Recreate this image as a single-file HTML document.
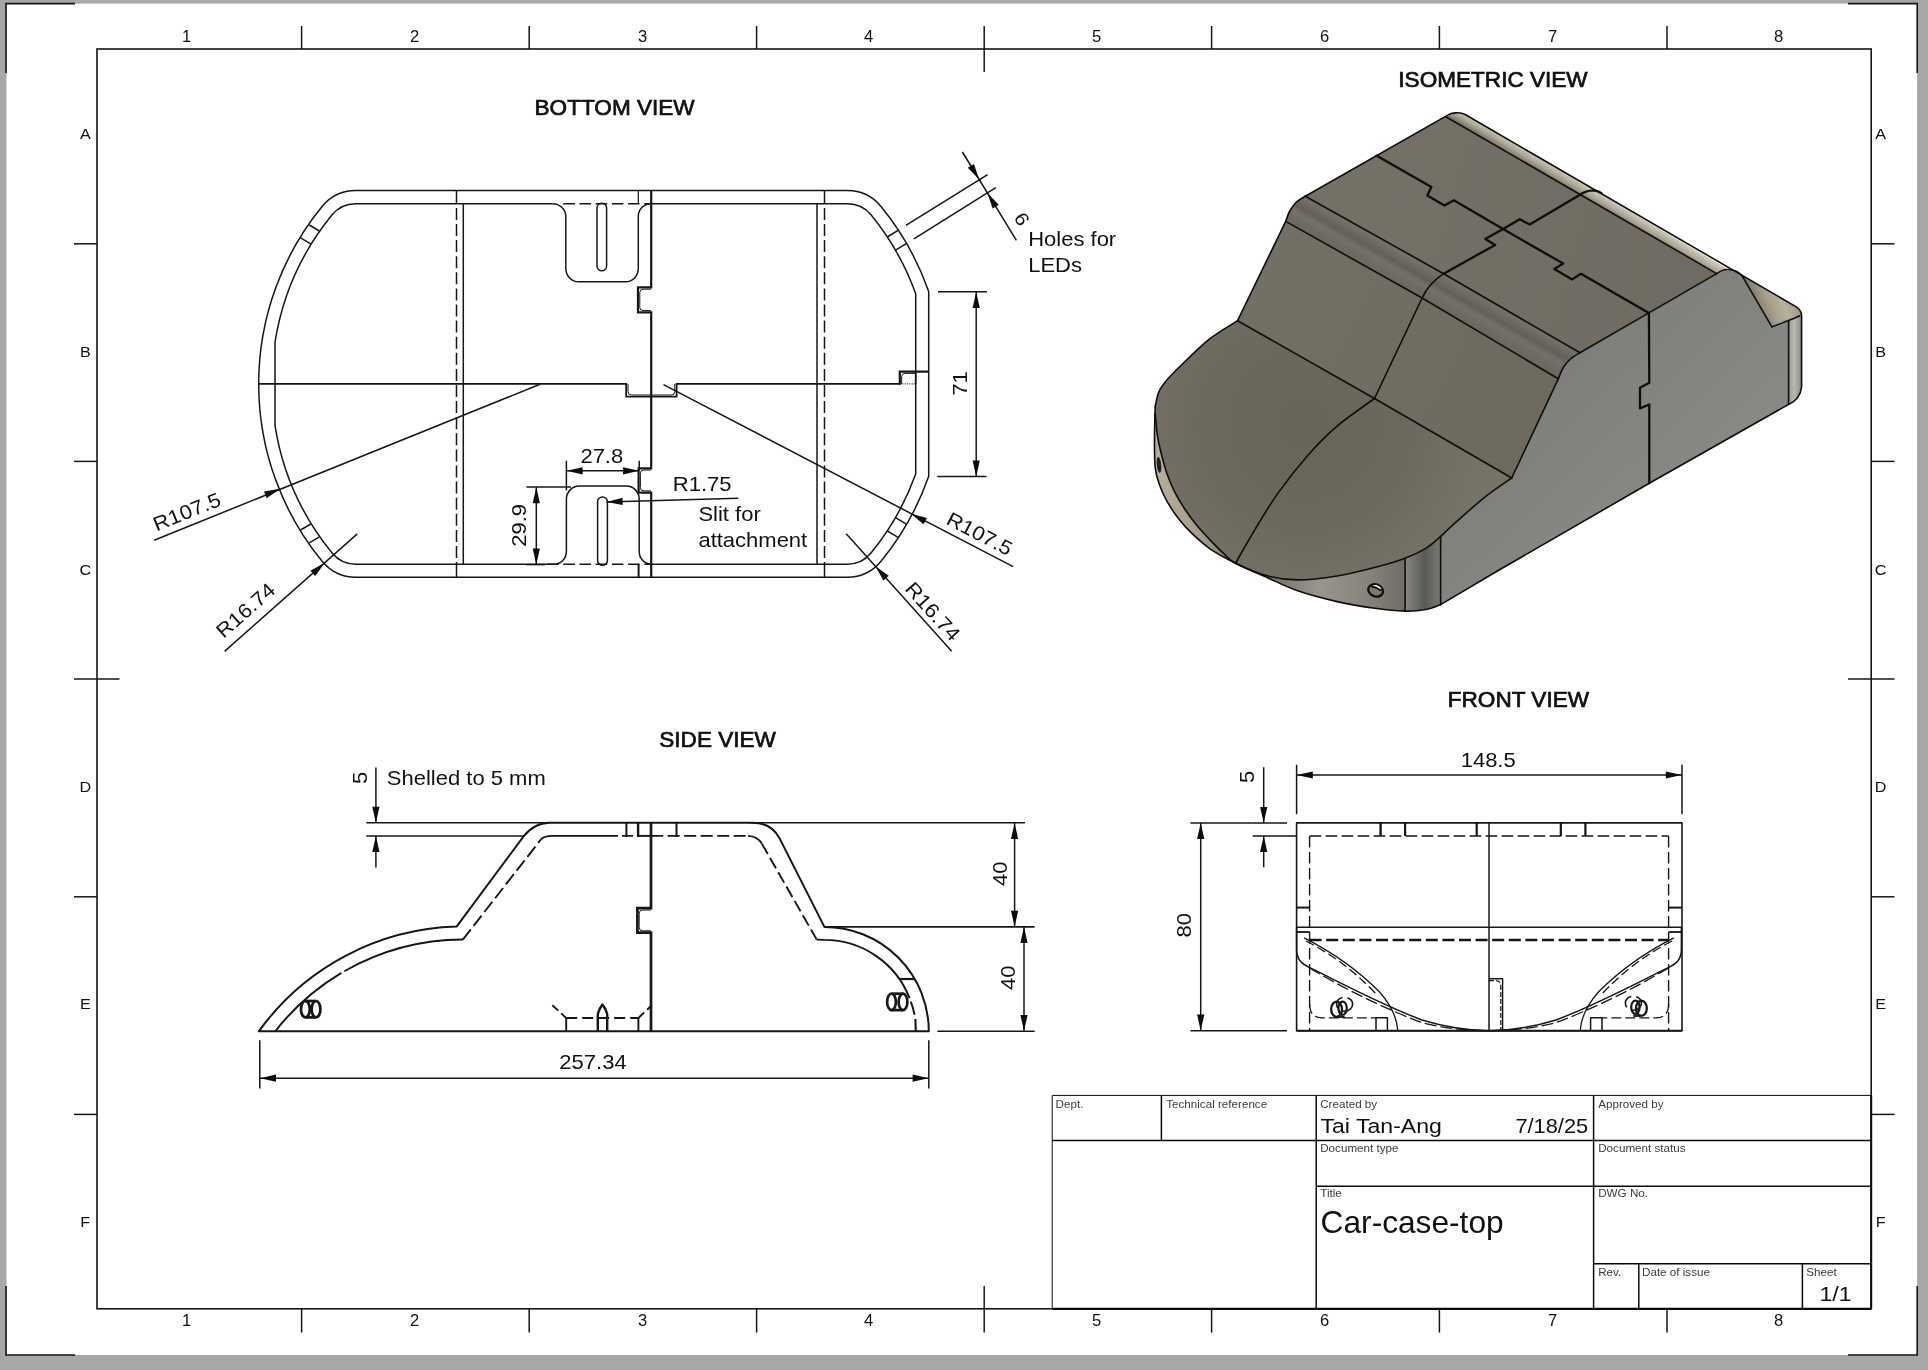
<!DOCTYPE html>
<html><head><meta charset="utf-8"><title>Car-case-top drawing</title>
<style>
html,body{margin:0;padding:0;background:#a7a7a7;}
body{width:1928px;height:1370px;overflow:hidden;}
svg{display:block;will-change:transform;}
svg text{font-family:"Liberation Sans",sans-serif;stroke:none;}
</style></head><body>
<svg width="1928" height="1370" viewBox="0 0 1928 1370">
<rect x="0" y="0" width="1928" height="1370" fill="#a7a7a7"/>
<rect x="6.5" y="3.6" width="1910.6" height="1351.4" fill="#ffffff"/>
<g stroke="#161616" fill="none" stroke-linecap="butt">
<path d="M6 73 L6 3.6 L75 3.6" stroke-width="1.6" fill="none" />
<path d="M1848 3.6 L1917.2 3.6 L1917.2 73" stroke-width="1.6" fill="none" />
<path d="M6 1286 L6 1355 L75 1355" stroke-width="1.6" fill="none" />
<path d="M1848 1355 L1917.2 1355 L1917.2 1286" stroke-width="1.6" fill="none" />
<rect x="97.0" y="49.0" width="1774.2" height="1259.8" stroke-width="1.6"/>
<line x1="301.60" y1="26.00" x2="301.60" y2="49.00" stroke-width="1.5" />
<line x1="301.60" y1="1308.80" x2="301.60" y2="1332.60" stroke-width="1.5" />
<line x1="529.20" y1="26.00" x2="529.20" y2="49.00" stroke-width="1.5" />
<line x1="529.20" y1="1308.80" x2="529.20" y2="1332.60" stroke-width="1.5" />
<line x1="756.60" y1="26.00" x2="756.60" y2="49.00" stroke-width="1.5" />
<line x1="756.60" y1="1308.80" x2="756.60" y2="1332.60" stroke-width="1.5" />
<line x1="984.20" y1="26.00" x2="984.20" y2="72.00" stroke-width="1.5" />
<line x1="984.20" y1="1286.00" x2="984.20" y2="1332.60" stroke-width="1.5" />
<line x1="1211.60" y1="26.00" x2="1211.60" y2="49.00" stroke-width="1.5" />
<line x1="1211.60" y1="1308.80" x2="1211.60" y2="1332.60" stroke-width="1.5" />
<line x1="1439.40" y1="26.00" x2="1439.40" y2="49.00" stroke-width="1.5" />
<line x1="1439.40" y1="1308.80" x2="1439.40" y2="1332.60" stroke-width="1.5" />
<line x1="1667.00" y1="26.00" x2="1667.00" y2="49.00" stroke-width="1.5" />
<line x1="1667.00" y1="1308.80" x2="1667.00" y2="1332.60" stroke-width="1.5" />
<line x1="74.00" y1="243.80" x2="97.00" y2="243.80" stroke-width="1.5" />
<line x1="1871.20" y1="243.80" x2="1894.50" y2="243.80" stroke-width="1.5" />
<line x1="74.00" y1="461.40" x2="97.00" y2="461.40" stroke-width="1.5" />
<line x1="1871.20" y1="461.40" x2="1894.50" y2="461.40" stroke-width="1.5" />
<line x1="74.00" y1="679.00" x2="119.50" y2="679.00" stroke-width="1.5" />
<line x1="1848.00" y1="679.00" x2="1894.50" y2="679.00" stroke-width="1.5" />
<line x1="74.00" y1="896.80" x2="97.00" y2="896.80" stroke-width="1.5" />
<line x1="1871.20" y1="896.80" x2="1894.50" y2="896.80" stroke-width="1.5" />
<line x1="74.00" y1="1114.40" x2="97.00" y2="1114.40" stroke-width="1.5" />
<line x1="1871.20" y1="1114.40" x2="1894.50" y2="1114.40" stroke-width="1.5" />
</g>
<text transform="translate(186.50 41.60) scale(1.05 1)" font-size="15.8" text-anchor="middle" font-weight="normal" fill="#111" >1</text>
<text transform="translate(186.50 1325.80) scale(1.05 1)" font-size="15.8" text-anchor="middle" font-weight="normal" fill="#111" >1</text>
<text transform="translate(414.50 41.60) scale(1.05 1)" font-size="15.8" text-anchor="middle" font-weight="normal" fill="#111" >2</text>
<text transform="translate(414.50 1325.80) scale(1.05 1)" font-size="15.8" text-anchor="middle" font-weight="normal" fill="#111" >2</text>
<text transform="translate(642.50 41.60) scale(1.05 1)" font-size="15.8" text-anchor="middle" font-weight="normal" fill="#111" >3</text>
<text transform="translate(642.50 1325.80) scale(1.05 1)" font-size="15.8" text-anchor="middle" font-weight="normal" fill="#111" >3</text>
<text transform="translate(868.50 41.60) scale(1.05 1)" font-size="15.8" text-anchor="middle" font-weight="normal" fill="#111" >4</text>
<text transform="translate(868.50 1325.80) scale(1.05 1)" font-size="15.8" text-anchor="middle" font-weight="normal" fill="#111" >4</text>
<text transform="translate(1096.50 41.60) scale(1.05 1)" font-size="15.8" text-anchor="middle" font-weight="normal" fill="#111" >5</text>
<text transform="translate(1096.50 1325.80) scale(1.05 1)" font-size="15.8" text-anchor="middle" font-weight="normal" fill="#111" >5</text>
<text transform="translate(1324.50 41.60) scale(1.05 1)" font-size="15.8" text-anchor="middle" font-weight="normal" fill="#111" >6</text>
<text transform="translate(1324.50 1325.80) scale(1.05 1)" font-size="15.8" text-anchor="middle" font-weight="normal" fill="#111" >6</text>
<text transform="translate(1552.50 41.60) scale(1.05 1)" font-size="15.8" text-anchor="middle" font-weight="normal" fill="#111" >7</text>
<text transform="translate(1552.50 1325.80) scale(1.05 1)" font-size="15.8" text-anchor="middle" font-weight="normal" fill="#111" >7</text>
<text transform="translate(1778.50 41.60) scale(1.05 1)" font-size="15.8" text-anchor="middle" font-weight="normal" fill="#111" >8</text>
<text transform="translate(1778.50 1325.80) scale(1.05 1)" font-size="15.8" text-anchor="middle" font-weight="normal" fill="#111" >8</text>
<text transform="translate(85.30 139.10) scale(1.05 1)" font-size="15.4" text-anchor="middle" font-weight="normal" fill="#111" >A</text>
<text transform="translate(1880.60 139.10) scale(1.05 1)" font-size="15.4" text-anchor="middle" font-weight="normal" fill="#111" >A</text>
<text transform="translate(85.30 357.10) scale(1.05 1)" font-size="15.4" text-anchor="middle" font-weight="normal" fill="#111" >B</text>
<text transform="translate(1880.60 357.10) scale(1.05 1)" font-size="15.4" text-anchor="middle" font-weight="normal" fill="#111" >B</text>
<text transform="translate(85.30 575.10) scale(1.05 1)" font-size="15.4" text-anchor="middle" font-weight="normal" fill="#111" >C</text>
<text transform="translate(1880.60 575.10) scale(1.05 1)" font-size="15.4" text-anchor="middle" font-weight="normal" fill="#111" >C</text>
<text transform="translate(85.30 792.10) scale(1.05 1)" font-size="15.4" text-anchor="middle" font-weight="normal" fill="#111" >D</text>
<text transform="translate(1880.60 792.10) scale(1.05 1)" font-size="15.4" text-anchor="middle" font-weight="normal" fill="#111" >D</text>
<text transform="translate(85.30 1009.10) scale(1.05 1)" font-size="15.4" text-anchor="middle" font-weight="normal" fill="#111" >E</text>
<text transform="translate(1880.60 1009.10) scale(1.05 1)" font-size="15.4" text-anchor="middle" font-weight="normal" fill="#111" >E</text>
<text transform="translate(85.30 1227.10) scale(1.05 1)" font-size="15.4" text-anchor="middle" font-weight="normal" fill="#111" >F</text>
<text transform="translate(1880.60 1227.10) scale(1.05 1)" font-size="15.4" text-anchor="middle" font-weight="normal" fill="#111" >F</text>
<g stroke="#0a0a0a" fill="none" stroke-width="1.7">
<path d="M1052.2 1308.8 L1052.2 1095.4 L1871.2 1095.4" stroke-width="1.0" fill="none" />
<line x1="1052.20" y1="1308.80" x2="1871.20" y2="1308.80" stroke-width="2.2" />
<line x1="1871.20" y1="1095.40" x2="1871.20" y2="1308.80" stroke-width="2.0" />
<line x1="1161.40" y1="1095.40" x2="1161.40" y2="1140.60" stroke-width="1.5" />
<line x1="1052.20" y1="1140.60" x2="1871.20" y2="1140.60" stroke-width="1.5" />
<line x1="1316.20" y1="1095.40" x2="1316.20" y2="1308.80" stroke-width="1.5" />
<line x1="1316.20" y1="1186.20" x2="1871.20" y2="1186.20" stroke-width="1.5" />
<line x1="1593.60" y1="1095.40" x2="1593.60" y2="1308.80" stroke-width="1.5" />
<line x1="1593.60" y1="1263.80" x2="1871.20" y2="1263.80" stroke-width="1.5" />
<line x1="1638.80" y1="1263.80" x2="1638.80" y2="1308.80" stroke-width="1.5" />
<line x1="1802.40" y1="1263.80" x2="1802.40" y2="1308.80" stroke-width="1.5" />
</g>
<text transform="translate(1055.60 1107.80) scale(1.1 1)" font-size="10.6" text-anchor="start" font-weight="normal" fill="#3c3c3c" >Dept.</text>
<text transform="translate(1166.20 1107.80) scale(1.1 1)" font-size="10.6" text-anchor="start" font-weight="normal" fill="#3c3c3c" >Technical reference</text>
<text transform="translate(1320.20 1107.80) scale(1.1 1)" font-size="10.6" text-anchor="start" font-weight="normal" fill="#3c3c3c" >Created by</text>
<text transform="translate(1598.20 1107.80) scale(1.1 1)" font-size="10.6" text-anchor="start" font-weight="normal" fill="#3c3c3c" >Approved by</text>
<text transform="translate(1320.20 1151.60) scale(1.1 1)" font-size="10.6" text-anchor="start" font-weight="normal" fill="#3c3c3c" >Document type</text>
<text transform="translate(1598.20 1151.60) scale(1.1 1)" font-size="10.6" text-anchor="start" font-weight="normal" fill="#3c3c3c" >Document status</text>
<text transform="translate(1320.20 1197.40) scale(1.1 1)" font-size="10.6" text-anchor="start" font-weight="normal" fill="#3c3c3c" >Title</text>
<text transform="translate(1598.20 1197.40) scale(1.1 1)" font-size="10.6" text-anchor="start" font-weight="normal" fill="#3c3c3c" >DWG No.</text>
<text transform="translate(1598.20 1275.60) scale(1.1 1)" font-size="10.6" text-anchor="start" font-weight="normal" fill="#3c3c3c" >Rev.</text>
<text transform="translate(1642.00 1275.60) scale(1.1 1)" font-size="10.6" text-anchor="start" font-weight="normal" fill="#3c3c3c" >Date of issue</text>
<text transform="translate(1806.20 1275.60) scale(1.1 1)" font-size="10.6" text-anchor="start" font-weight="normal" fill="#3c3c3c" >Sheet</text>
<text transform="translate(1320.40 1133.40) scale(1.1 1)" font-size="21" text-anchor="start" font-weight="normal" fill="#111" >Tai Tan-Ang</text>
<text transform="translate(1588.20 1133.40) scale(1.04 1)" font-size="21" text-anchor="end" font-weight="normal" fill="#111" >7/18/25</text>
<text transform="translate(1320.60 1233.20) scale(0.99 1)" font-size="32" text-anchor="start" font-weight="normal" fill="#111" >Car-case-top</text>
<text transform="translate(1851.60 1301.20) scale(1.1 1)" font-size="21" text-anchor="end" font-weight="normal" fill="#111" >1/1</text>
<text transform="translate(614.60 115.40) scale(1.055 1)" font-size="21.4" text-anchor="middle" font-weight="normal" fill="#111" style="stroke:#111;stroke-width:0.7px">BOTTOM VIEW</text>
<text transform="translate(1493.00 87.40) scale(1.055 1)" font-size="21.4" text-anchor="middle" font-weight="normal" fill="#111" style="stroke:#111;stroke-width:0.7px">ISOMETRIC VIEW</text>
<text transform="translate(717.60 747.40) scale(1.055 1)" font-size="21.4" text-anchor="middle" font-weight="normal" fill="#111" style="stroke:#111;stroke-width:0.7px">SIDE VIEW</text>
<text transform="translate(1518.40 707.40) scale(1.055 1)" font-size="21.4" text-anchor="middle" font-weight="normal" fill="#111" style="stroke:#111;stroke-width:0.7px">FRONT VIEW</text>
<defs>
<linearGradient id="gRoof" gradientUnits="userSpaceOnUse" x1="1320" y1="190" x2="1700" y2="290"><stop offset="0" stop-color="#757167"/><stop offset="1" stop-color="#6f6b62"/></linearGradient>
<linearGradient id="gFil" gradientUnits="userSpaceOnUse" x1="1443.6" y1="273.7" x2="1427.9" y2="301.3"><stop offset="0" stop-color="#78746b"/><stop offset="0.2" stop-color="#706c63"/><stop offset="0.42" stop-color="#635f57"/><stop offset="0.62" stop-color="#75716a"/><stop offset="0.8" stop-color="#6f6b62"/><stop offset="1" stop-color="#6c685f"/></linearGradient>
<linearGradient id="gWind" gradientUnits="userSpaceOnUse" x1="1260" y1="280" x2="1540" y2="430"><stop offset="0" stop-color="#746f65"/><stop offset="1" stop-color="#6d695f"/></linearGradient>
<radialGradient id="gHood" gradientUnits="userSpaceOnUse" cx="1305" cy="425" r="185"><stop offset="0" stop-color="#68645a"/><stop offset="0.55" stop-color="#6c685e"/><stop offset="1" stop-color="#777369"/></radialGradient>
<linearGradient id="gSide" gradientUnits="userSpaceOnUse" x1="1520" y1="330" x2="1700" y2="520"><stop offset="0" stop-color="#7b7c77"/><stop offset="1" stop-color="#8a8b86"/></linearGradient>
<linearGradient id="gRearFil" gradientUnits="userSpaceOnUse" x1="1580.9" y1="195.6" x2="1593.5" y2="174.6"><stop offset="0" stop-color="#7f7a6e"/><stop offset="0.2" stop-color="#a9a494"/><stop offset="0.5" stop-color="#d2cdbd"/><stop offset="0.8" stop-color="#bcb7a7"/><stop offset="1" stop-color="#969184"/></linearGradient>
<linearGradient id="gRearTri" gradientUnits="userSpaceOnUse" x1="1755" y1="305" x2="1790" y2="290"><stop offset="0" stop-color="#7d786b"/><stop offset="0.35" stop-color="#a59e8c"/><stop offset="0.7" stop-color="#b8b19e"/><stop offset="1" stop-color="#a29c8b"/></linearGradient>
<linearGradient id="gRearStrip" gradientUnits="userSpaceOnUse" x1="1788.6" y1="0" x2="1801.6" y2="0"><stop offset="0" stop-color="#9a9a95"/><stop offset="0.45" stop-color="#b9b8b1"/><stop offset="1" stop-color="#8c8a80"/></linearGradient>
<linearGradient id="gFrontStrip" gradientUnits="userSpaceOnUse" x1="1405.1" y1="0" x2="1440.6" y2="0"><stop offset="0" stop-color="#85847d"/><stop offset="0.55" stop-color="#5b5a56"/><stop offset="1" stop-color="#7a7a73"/></linearGradient>
<linearGradient id="gFrontWall" gradientUnits="userSpaceOnUse" x1="1150" y1="0" x2="1405" y2="0"><stop offset="0" stop-color="#b9b19d"/><stop offset="0.2" stop-color="#a39c8a"/><stop offset="0.42" stop-color="#6a675b"/><stop offset="0.66" stop-color="#98968d"/><stop offset="0.85" stop-color="#86847c"/><stop offset="1" stop-color="#6e6c65"/></linearGradient>
</defs>
<polygon points="1305.3,196.2 1446.4,115.9 1445.9,116.8 1716.7,273.6 1648.9,312.9 1579.9,352.8 1443.6,273.7" fill="url(#gRoof)" stroke="none" />
<polygon points="1445.9,116.8 1455.8,112.9 1465.6,114.8 1727.2,268.6 1716.7,273.6" fill="url(#gRearFil)" stroke="none" />
<polygon points="1305.3,196.2 1443.6,273.7 1579.9,352.8 1579.9,352.8 1578.6,353.6 1576.7,354.7 1574.6,356.0 1572.4,357.5 1570.5,359.0 1568.8,360.6 1567.2,362.3 1565.7,364.1 1564.3,366.0 1563.0,368.0 1561.8,370.2 1560.7,372.7 1559.7,375.2 1558.9,377.3 1558.3,378.8 1422.1,298.0 1285.7,221.4 1286.2,220.0 1286.8,218.1 1287.6,215.9 1288.5,213.6 1289.5,211.5 1290.6,209.6 1291.8,207.7 1293.1,205.9 1294.5,204.1 1296.0,202.5 1297.8,201.0 1300.0,199.5 1302.1,198.1 1304.0,197.0 1305.3,196.2" fill="url(#gFil)" stroke="none" />
<polygon points="1285.7,221.4 1422.1,298.0 1558.3,378.8 1511.7,478.0 1374.5,398.5 1237.6,320.7" fill="url(#gWind)" stroke="none" />
<polygon points="1237.6,320.7 1374.5,398.5 1511.7,478.0 1511.7,478.0 1509.7,479.4 1506.9,481.3 1503.7,483.5 1500.1,486.0 1496.3,488.6 1492.4,491.4 1488.6,494.3 1484.9,497.1 1481.2,500.1 1477.4,503.3 1473.4,506.7 1469.4,510.2 1465.5,513.7 1461.8,517.0 1458.4,520.0 1455.4,522.7 1452.7,525.1 1450.3,527.3 1448.1,529.4 1446.2,531.3 1444.4,532.9 1442.9,534.4 1441.6,535.6 1440.6,536.6 1440.6,536.6 1439.5,537.5 1438.1,538.8 1436.4,540.2 1434.5,541.9 1432.4,543.6 1430.3,545.3 1428.0,546.9 1425.8,548.4 1423.5,549.7 1421.2,551.0 1418.8,552.3 1416.3,553.5 1413.7,554.8 1411.0,555.9 1408.1,557.1 1405.1,558.3 1402.0,559.5 1398.8,560.6 1395.4,561.7 1392.0,562.8 1388.4,563.8 1384.6,564.9 1380.6,566.0 1376.5,567.1 1372.1,568.2 1367.4,569.4 1362.5,570.6 1357.5,571.9 1352.3,573.0 1347.2,574.1 1342.1,575.1 1337.1,576.0 1332.1,576.8 1327.0,577.5 1321.9,578.2 1316.8,578.7 1311.8,579.2 1306.9,579.6 1302.2,579.8 1297.7,579.9 1293.6,579.8 1289.7,579.7 1286.0,579.4 1282.5,579.0 1279.0,578.5 1275.5,577.8 1271.9,577.0 1268.1,576.0 1264.0,574.8 1259.7,573.3 1255.2,571.7 1250.7,570.0 1246.3,568.1 1242.3,566.4 1238.6,564.7 1235.5,563.2 1233.0,561.9 1231.1,560.7 1229.6,559.6 1228.4,558.5 1227.4,557.4 1226.3,556.3 1225.2,555.0 1223.8,553.7 1222.2,552.3 1220.7,550.7 1219.1,549.2 1217.4,547.6 1215.8,545.9 1214.1,544.2 1212.4,542.4 1210.7,540.6 1208.9,538.7 1207.1,536.8 1205.2,534.8 1203.3,532.7 1201.4,530.7 1199.6,528.6 1197.8,526.5 1196.1,524.5 1194.5,522.5 1192.9,520.5 1191.4,518.6 1190.0,516.6 1188.6,514.6 1187.2,512.6 1185.8,510.6 1184.4,508.5 1183.0,506.4 1181.7,504.2 1180.3,502.0 1179.0,499.8 1177.7,497.6 1176.5,495.3 1175.3,493.1 1174.2,490.9 1173.1,488.7 1172.1,486.6 1171.2,484.5 1170.3,482.3 1169.4,480.2 1168.6,478.0 1167.7,475.7 1166.9,473.4 1166.1,471.0 1165.3,468.4 1164.5,465.8 1163.8,463.2 1163.1,460.6 1162.4,458.0 1161.7,455.4 1161.1,453.0 1160.5,450.7 1160.0,448.5 1159.5,446.4 1159.0,444.3 1158.6,442.3 1158.2,440.1 1157.8,437.9 1157.4,435.5 1157.0,432.8 1156.7,429.8 1156.4,426.6 1156.1,423.5 1155.8,420.4 1155.6,417.6 1155.4,415.3 1155.2,413.6 1155.2,406.3 1155.5,405.2 1155.8,403.6 1156.1,401.8 1156.6,399.7 1157.0,397.6 1157.6,395.5 1158.2,393.5 1158.9,391.7 1159.7,390.1 1160.5,388.6 1161.4,387.2 1162.4,385.8 1163.4,384.4 1164.5,382.9 1165.7,381.5 1166.9,380.0 1168.1,378.5 1169.3,377.2 1170.5,375.9 1171.8,374.5 1173.3,373.0 1175.0,371.3 1177.0,369.3 1179.4,367.0 1182.3,364.2 1185.6,360.9 1189.3,357.3 1193.2,353.6 1197.2,349.7 1201.3,346.0 1205.2,342.5 1209.0,339.4 1212.8,336.5 1216.9,333.7 1221.1,330.9 1225.2,328.3 1229.0,326.0 1232.5,323.9 1235.4,322.1 1237.6,320.7" fill="url(#gHood)" stroke="none" />
<polygon points="1155.2,413.6 1155.4,415.3 1155.6,417.6 1155.8,420.4 1156.1,423.5 1156.4,426.6 1156.7,429.8 1157.0,432.8 1157.4,435.5 1157.8,437.9 1158.2,440.1 1158.6,442.3 1159.0,444.3 1159.5,446.4 1160.0,448.5 1160.5,450.7 1161.1,453.0 1161.7,455.4 1162.4,458.0 1163.1,460.6 1163.8,463.2 1164.5,465.8 1165.3,468.4 1166.1,471.0 1166.9,473.4 1167.7,475.7 1168.6,478.0 1169.4,480.2 1170.3,482.3 1171.2,484.5 1172.1,486.6 1173.1,488.7 1174.2,490.9 1175.3,493.1 1176.5,495.3 1177.7,497.6 1179.0,499.8 1180.3,502.0 1181.7,504.2 1183.0,506.4 1184.4,508.5 1185.8,510.6 1187.2,512.6 1188.6,514.6 1190.0,516.6 1191.4,518.6 1192.9,520.5 1194.5,522.5 1196.1,524.5 1197.8,526.5 1199.6,528.6 1201.4,530.7 1203.3,532.7 1205.2,534.8 1207.1,536.8 1208.9,538.7 1210.7,540.6 1212.4,542.4 1214.1,544.2 1215.8,545.9 1217.4,547.6 1219.1,549.2 1220.7,550.7 1222.2,552.3 1223.8,553.7 1225.2,555.0 1226.3,556.3 1227.4,557.4 1228.4,558.5 1229.6,559.6 1231.1,560.7 1233.0,561.9 1235.5,563.2 1238.6,564.7 1242.3,566.4 1246.3,568.1 1250.7,570.0 1255.2,571.7 1259.7,573.3 1264.0,574.8 1268.1,576.0 1271.9,577.0 1275.5,577.8 1279.0,578.5 1282.5,579.0 1286.0,579.4 1289.7,579.7 1293.6,579.8 1297.7,579.9 1302.2,579.8 1306.9,579.6 1311.8,579.2 1316.8,578.7 1321.9,578.2 1327.0,577.5 1332.1,576.8 1337.1,576.0 1342.1,575.1 1347.2,574.1 1352.3,573.0 1357.5,571.9 1362.5,570.6 1367.4,569.4 1372.1,568.2 1376.5,567.1 1380.6,566.0 1384.6,564.9 1388.4,563.8 1392.0,562.8 1395.4,561.7 1398.8,560.6 1402.0,559.5 1405.1,558.3 1405.1,611.1 1402.0,611.0 1398.8,610.8 1395.4,610.6 1392.0,610.3 1388.4,610.0 1384.6,609.6 1380.6,609.1 1376.5,608.5 1372.1,607.9 1367.4,607.2 1362.5,606.4 1357.5,605.6 1352.3,604.7 1347.2,603.7 1342.1,602.7 1337.1,601.6 1332.1,600.5 1327.1,599.3 1322.0,598.0 1317.0,596.7 1312.0,595.3 1307.1,593.8 1302.3,592.3 1297.7,590.8 1293.3,589.2 1289.0,587.5 1284.8,585.7 1280.7,583.9 1276.7,582.0 1272.8,580.2 1268.9,578.4 1265.0,576.6 1261.1,574.9 1257.3,573.2 1253.5,571.5 1249.8,569.9 1246.1,568.2 1242.5,566.6 1238.9,564.9 1235.5,563.2 1232.1,561.5 1228.8,559.8 1225.5,558.1 1222.4,556.3 1219.3,554.6 1216.3,552.8 1213.4,551.1 1210.7,549.3 1208.1,547.5 1205.7,545.7 1203.5,543.9 1201.3,542.1 1199.2,540.3 1197.2,538.5 1195.2,536.6 1193.2,534.7 1191.2,532.8 1189.3,530.8 1187.4,528.9 1185.5,526.9 1183.7,524.9 1182.0,522.8 1180.3,520.8 1178.6,518.7 1177.0,516.6 1175.4,514.4 1173.8,512.2 1172.3,510.0 1170.8,507.7 1169.4,505.5 1168.1,503.3 1166.9,501.2 1165.8,499.1 1164.7,497.1 1163.7,495.1 1162.8,493.2 1161.9,491.2 1161.1,489.2 1160.3,487.2 1159.6,485.1 1158.9,483.1 1158.2,481.1 1157.6,479.2 1157.0,477.2 1156.5,475.1 1156.0,472.8 1155.6,470.4 1155.2,467.6 1154.9,464.5 1154.7,461.2 1154.6,457.6 1154.5,453.9 1154.5,450.1 1154.5,446.2 1154.5,442.3 1154.5,438.4 1154.5,434.3 1154.6,429.8 1154.7,425.2 1154.8,420.5 1154.9,416.1 1155.0,412.1 1155.1,408.8 1155.2,406.3" fill="url(#gFrontWall)" stroke="none" />
<polygon points="1405.1,558.3 1425.8,548.4 1440.6,536.6 1440.6,604.6 1425.8,609.5 1405.1,611.1" fill="url(#gFrontStrip)" stroke="none" />
<polygon points="1440.6,536.6 1441.6,535.6 1442.9,534.4 1444.4,532.9 1446.2,531.3 1448.1,529.4 1450.3,527.3 1452.7,525.1 1455.4,522.7 1458.4,520.0 1461.8,517.0 1465.5,513.7 1469.4,510.2 1473.4,506.7 1477.4,503.3 1481.2,500.1 1484.9,497.1 1488.6,494.3 1492.4,491.4 1496.3,488.6 1500.1,486.0 1503.7,483.5 1506.9,481.3 1509.7,479.4 1511.7,478.0 1558.3,378.8 1558.9,377.3 1559.7,375.2 1560.7,372.7 1561.8,370.2 1563.0,368.0 1564.3,366.0 1565.7,364.1 1567.2,362.3 1568.8,360.6 1570.5,359.0 1572.4,357.5 1574.6,356.0 1576.7,354.7 1578.6,353.6 1579.9,352.8 1648.9,312.9 1716.7,273.6 1717.7,273.0 1719.0,272.2 1720.6,271.3 1722.0,270.6 1723.3,270.2 1724.6,269.9 1725.9,269.7 1727.2,269.6 1728.6,269.5 1729.9,269.6 1731.3,269.7 1732.6,269.9 1733.8,270.2 1734.9,270.6 1736.0,271.1 1737.1,271.7 1738.2,272.3 1739.2,273.1 1740.2,273.8 1741.0,274.6 1741.7,275.5 1742.4,276.4 1742.9,277.3 1743.3,277.9 1771.9,326.9 1783.0,322.6 1788.6,320.5 1788.6,404.4 1649.3,483.3 1499.1,570.0 1440.6,604.6" fill="url(#gSide)" stroke="none" />
<polygon points="1743.3,277.9 1737.1,271.7 1796.7,307.1 1801.0,310.8 1801.6,315.7 1799.8,315.7 1798.7,316.2 1797.0,317.0 1795.1,317.9 1793.0,318.8 1790.8,319.7 1788.3,320.6 1785.7,321.6 1783.0,322.6 1780.0,323.7 1776.8,325.0 1773.9,326.1 1771.9,326.9" fill="url(#gRearTri)" stroke="none" />
<polygon points="1788.6,320.5 1793.0,318.8 1799.8,315.7 1801.6,315.7 1801.6,386.5 1799.8,393.6 1796.7,398.9 1788.6,404.4" fill="url(#gRearStrip)" stroke="none" />
<g fill="none" stroke="#0d0d0c" stroke-width="1.6" stroke-linejoin="round" stroke-linecap="round">
<path d="M1155.2 406.3 C1155.8 403.9 1157.0 396.1 1158.9 391.7 C1160.9 387.3 1163.5 384.1 1166.9 380.0 C1170.3 375.9 1172.4 373.8 1179.4 367.0 C1186.4 360.2 1199.3 347.1 1209.0 339.4 C1218.7 331.7 1232.8 323.8 1237.6 320.7"/>
<path d="M1237.6 320.7 L1285.7 221.4"/>
<path d="M1285.7 221.4 C1286.3 219.8 1287.8 214.7 1289.5 211.5 C1291.2 208.3 1293.4 205.1 1296.0 202.5 C1298.6 199.9 1303.8 197.2 1305.3 196.2"/>
<path d="M1305.3 196.2 L1446.4 115.9 Q1451.6 112.6 1455.8 112.9 Q1460.6 112.2 1465.6 114.8 L1796.7 307.1 Q1801.4 310.4 1801.6 315.7 L1801.6 386.5 Q1800.6 399.0 1788.6 404.4 L1649.3 483.3 L1499.1 570.0 L1440.6 604.6"/>
<path d="M1440.6 604.6 C1438.1 605.4 1431.7 608.4 1425.8 609.5 C1419.9 610.6 1413.3 611.3 1405.1 611.1 C1396.9 610.9 1387.8 610.1 1376.5 608.5 C1365.2 606.9 1350.2 604.6 1337.1 601.6 C1324.0 598.6 1309.7 595.0 1297.7 590.8 C1285.7 586.6 1275.4 581.2 1265.0 576.6 C1254.6 572.0 1244.5 567.8 1235.5 563.2 C1226.5 558.7 1217.8 554.0 1210.7 549.3 C1203.7 544.5 1198.6 539.8 1193.2 534.7 C1187.8 529.6 1183.0 524.3 1178.6 518.7 C1174.2 513.1 1170.1 506.8 1166.9 501.2 C1163.7 495.6 1161.5 490.7 1159.6 485.1 C1157.6 479.5 1156.0 475.4 1155.2 467.6 C1154.4 459.8 1154.5 448.6 1154.5 438.4 C1154.5 428.2 1155.1 411.6 1155.2 406.3"/>
<path d="M1445.9 116.8 L1716.7 273.6"/>
<path d="M1305.3 196.2 L1443.6 273.7 L1579.9 352.8"/>
<path d="M1285.7 221.4 L1422.1 298.0 L1558.3 378.8"/>
<path d="M1237.6 320.7 L1374.5 398.5 L1511.7 478.0"/>
<path d="M1155.2 413.6 C1155.6 417.2 1156.4 428.9 1157.4 435.5 C1158.4 442.1 1159.5 446.7 1161.1 453.0 C1162.7 459.3 1164.7 467.1 1166.9 473.4 C1169.1 479.7 1171.3 485.0 1174.2 490.9 C1177.1 496.8 1180.8 502.9 1184.4 508.5 C1188.1 514.1 1191.7 519.1 1196.1 524.5 C1200.5 529.9 1206.1 535.7 1210.7 540.6 C1215.3 545.5 1219.7 549.9 1223.8 553.7 C1227.9 557.5 1228.1 559.5 1235.5 563.2 C1242.9 566.9 1257.7 573.2 1268.1 576.0 C1278.5 578.8 1286.2 579.9 1297.7 579.9 C1309.2 579.9 1324.0 578.1 1337.1 576.0 C1350.2 573.9 1365.2 570.1 1376.5 567.1 C1387.8 564.1 1396.9 561.4 1405.1 558.3 C1413.3 555.2 1419.9 552.0 1425.8 548.4 C1431.7 544.8 1438.1 538.6 1440.6 536.6"/>
<path d="M1440.6 536.6 C1443.1 534.3 1448.0 529.3 1455.4 522.7 C1462.8 516.1 1475.5 504.6 1484.9 497.1 C1494.3 489.7 1507.2 481.2 1511.7 478.0"/>
<path d="M1511.7 478.0 L1558.3 378.8"/>
<path d="M1558.3 378.8 C1559.1 377.0 1561.0 371.3 1563.0 368.0 C1565.0 364.7 1567.7 361.5 1570.5 359.0 C1573.3 356.5 1578.3 353.8 1579.9 352.8"/>
<path d="M1579.9 352.8 L1648.9 312.9 L1716.7 273.6"/>
<path d="M1716.7 273.6 C1717.6 273.1 1720.2 271.3 1722.0 270.6 C1723.8 269.9 1725.4 269.7 1727.2 269.6 C1729.0 269.5 1730.9 269.5 1732.6 269.9 C1734.2 270.2 1735.7 270.9 1737.1 271.7 C1738.5 272.5 1740.0 273.6 1741.0 274.6 C1742.0 275.6 1742.9 277.3 1743.3 277.9" stroke-width="1.5"/>
<path d="M1743.3 277.9 L1771.9 326.9"/>
<path d="M1771.9 326.9 C1773.8 326.2 1779.5 324.0 1783.0 322.6 C1786.5 321.2 1790.2 320.0 1793.0 318.8 C1795.8 317.6 1798.7 316.2 1799.8 315.7" stroke-width="1.5"/>
<path d="M1788.6 321.0 L1788.6 404.4"/>
<path d="M1405.1 558.3 L1405.1 611.1"/><path d="M1440.6 536.6 L1440.6 604.6"/>
<path d="M1374.5 398.5 C1368.3 403.1 1348.3 416.6 1337.1 426.1 C1325.9 435.6 1317.3 444.5 1307.5 455.7 C1297.7 466.9 1286.9 480.6 1278.0 493.1 C1269.1 505.6 1261.4 518.9 1254.3 530.6 C1247.2 542.3 1238.7 557.8 1235.6 563.2"/>
<path d="M1374.5 398.5 L1422.1 298.0 Q1428.6 283.6 1443.6 273.7"/>
<path d="M1443.6 273.7 L1495.2 244.9 L1485.3 238.9 L1503.1 229.1 L1519.8 219.2 L1529.7 224.6 L1579.6 195.0 Q1586.0 190.6 1593.0 190.4 Q1598.0 190.6 1601.4 193.2" stroke-width="2.3"/>
<path d="M1376.3 155.6 L1431.4 186.9 L1427.3 195.6 L1444.5 205.5 L1453.8 200.3 L1503.1 229.1 L1563.2 263.6 L1554.3 269.1 L1572.1 279.4 L1580.9 273.8 L1648.9 312.9 L1649.3 382.8 L1640.0 387.7 L1640.0 408.4 L1649.3 404.5 L1649.3 483.3" stroke-width="2.3"/>
</g>
<ellipse cx="1375.6" cy="590.4" rx="7.6" ry="6.0" fill="#7a7972" stroke="#0a0a0a" stroke-width="2.2" transform="rotate(22 1375.6 590.4)"/>
<path d="M1372.6 585.2 L1376.0 585.0 Q1379.4 586.0 1381.4 588.4 L1379.4 589.4 Q1376.6 587.2 1372.6 585.2 Z" fill="#fafafa" stroke="none"/>
<path d="M1371.4 586.4 Q1377.0 587.4 1381.0 590.6" fill="none" stroke="#0a0a0a" stroke-width="1.8"/>
<ellipse cx="1159.0" cy="464.9" rx="1.7" ry="7.6" fill="#1e1e1c" stroke="#111" stroke-width="0.8" transform="rotate(-6 1159.0 464.9)"/>
<g stroke="#161616" fill="none" stroke-linecap="butt" stroke-linejoin="round">
<path d="M355.8 190.6 L847.3 190.6 A43.6 43.6 0 0 1 881 206.5 A279.9 279.9 0 0 1 928.7 291.6 L928.7 476.3 A279.9 279.9 0 0 1 881 561.3 A43.6 43.6 0 0 1 847.3 577.2 L355.8 577.2 A43.6 43.6 0 0 1 322.1 561.3 A279.9 279.9 0 0 1 322.1 206.5 A43.6 43.6 0 0 1 355.8 190.6 Z" stroke-width="1.5" fill="none" />
<path d="M552.6 203.8 L355.8 203.8 A30.6 30.6 0 0 0 332.1 214.8 A266.9 266.9 0 0 0 275 342.2 L275 425.6 A266.9 266.9 0 0 0 332.1 553.0 A30.6 30.6 0 0 0 355.8 564.2 L554.2 564.2" stroke-width="1.5" fill="none" />
<path d="M651.2 203.8 L847.3 203.8 A30.6 30.6 0 0 1 871.0 214.8 A266.9 266.9 0 0 1 915.7 293.8 L915.7 474.0 A266.9 266.9 0 0 1 871.0 553.0 A30.6 30.6 0 0 1 847.3 564.2 L651.2 564.2" stroke-width="1.5" fill="none" />
<line x1="309.30" y1="225.00" x2="319.40" y2="231.00" stroke-width="1.5" />
<line x1="309.30" y1="542.80" x2="319.40" y2="536.80" stroke-width="1.5" />
<line x1="300.50" y1="237.80" x2="310.80" y2="243.80" stroke-width="1.5" />
<line x1="300.50" y1="530.00" x2="310.80" y2="524.00" stroke-width="1.5" />
<line x1="887.30" y1="237.00" x2="898.40" y2="230.10" stroke-width="1.5" />
<line x1="887.30" y1="530.80" x2="898.40" y2="537.70" stroke-width="1.5" />
<line x1="895.60" y1="250.20" x2="906.60" y2="243.40" stroke-width="1.5" />
<line x1="895.60" y1="517.60" x2="906.60" y2="524.40" stroke-width="1.5" />
<line x1="456.50" y1="190.60" x2="456.50" y2="203.80" stroke-width="1.5" />
<line x1="456.50" y1="564.20" x2="456.50" y2="577.20" stroke-width="1.5" />
<line x1="456.50" y1="203.80" x2="456.50" y2="564.20" stroke-width="1.5" stroke-dasharray="12 4.1" stroke-dashoffset="12"/>
<line x1="463.30" y1="203.80" x2="463.30" y2="564.20" stroke-width="1.5" />
<line x1="817.00" y1="203.80" x2="817.00" y2="564.20" stroke-width="1.5" />
<line x1="824.50" y1="190.60" x2="824.50" y2="203.80" stroke-width="1.5" />
<line x1="824.50" y1="564.20" x2="824.50" y2="577.20" stroke-width="1.5" />
<line x1="824.50" y1="203.80" x2="824.50" y2="564.20" stroke-width="1.5" stroke-dasharray="12 4.1" stroke-dashoffset="12"/>
<line x1="638.30" y1="190.60" x2="638.30" y2="203.80" stroke-width="1.2" />
<line x1="638.60" y1="564.20" x2="638.60" y2="577.20" stroke-width="2.0" />
<path d="M651.2 190.6 L651.2 287.4 L638.0 287.4 L638.0 312.4 L651.2 312.4 L651.2 468.3 L638.6 468.3 L638.6 492.6 L651.2 492.6 L651.2 577.2" stroke-width="2.2" fill="none" stroke-linejoin="miter"/>
<path d="M651 289.2 L643 289.2 Q639.8 289.2 639.8 292.5 L639.8 307.3 Q639.8 310.6 643 310.6 L651 310.6" stroke-width="1.0" fill="none" />
<path d="M651 470 L643.6 470 Q640.4 470 640.4 473.3 L640.4 487.6 Q640.4 490.9 643.6 490.9 L651 490.9" stroke-width="1.0" fill="none" />
<path d="M258.8 383.9 L626.2 383.9 L626.2 396.7 L676.6 396.7 L676.6 383.9 L899.8 383.9" stroke-width="1.8" fill="none" stroke-linejoin="miter"/>
<path d="M628 383.9 L628 391.5 Q628 395 631.5 395 L671.3 395 Q674.8 395 674.8 391.5 L674.8 383.9" stroke-width="1.0" fill="none" />
<line x1="899.80" y1="383.90" x2="915.70" y2="383.90" stroke-width="1.0" stroke-dasharray="1.2 1.2"/>
<path d="M899.8 384.7 L899.8 371.6 L928.7 371.6" stroke-width="2.2" fill="none" stroke-linejoin="miter"/>
<path d="M901.6 383.9 L901.6 376.8 Q901.6 373.4 905 373.4 L915.7 373.4" stroke-width="1.0" fill="none" />
<line x1="915.70" y1="371.60" x2="915.70" y2="383.90" stroke-width="1.6" />
<path d="M552.6 203.8 A13.2 12.4 0 0 1 565.8 216.2 L565.8 268.6 A12.8 13.2 0 0 0 578.6 281.8 L625.6 281.8 A12.8 13.2 0 0 0 638.3 268.6 L638.3 216.2 A12.6 12.4 0 0 1 650.6 203.8" stroke-width="1.5" fill="none" />
<line x1="563.30" y1="203.80" x2="650.00" y2="203.80" stroke-width="1.5" stroke-dasharray="11.5 4.7"/>
<rect x="597.0" y="203.2" width="9.6" height="67.6" rx="4.8" ry="4.8" stroke-width="1.5"/>
<path d="M554.2 564.2 A12.4 12.6 0 0 0 566.4 551.6 L566.4 499.2 A12.8 13.2 0 0 1 579.2 486.0 L626.4 486.0 A12.8 13.2 0 0 1 639.2 499.2 L639.2 551.6 A12.0 12.6 0 0 0 650.8 564.2" stroke-width="1.5" fill="none" />
<line x1="547.10" y1="564.20" x2="650.00" y2="564.20" stroke-width="1.5" stroke-dasharray="11.5 4.7"/>
<rect x="597.6" y="496.9" width="9.8" height="68.4" rx="4.9" ry="4.9" stroke-width="1.5"/>
<line x1="905.90" y1="225.40" x2="987.60" y2="174.60" stroke-width="1.5" />
<line x1="913.90" y1="238.80" x2="995.80" y2="187.60" stroke-width="1.5" />
<line x1="962.40" y1="152.00" x2="1016.40" y2="240.40" stroke-width="1.5" />
<polygon points="979.20,179.60 967.79,167.82 973.94,164.07" fill="#0c0c0c" stroke="none"/>
<polygon points="987.40,193.00 998.81,204.78 992.66,208.53" fill="#0c0c0c" stroke="none"/>
<text transform="translate(1013.20 217.60) rotate(58.60) scale(1.1 1)" font-size="19" text-anchor="start" font-weight="normal" fill="#111" >6</text>
<text transform="translate(1028.20 245.60) scale(1.1 1)" font-size="20" text-anchor="start" font-weight="normal" fill="#111" >Holes for</text>
<text transform="translate(1028.20 271.50) scale(1.1 1)" font-size="20" text-anchor="start" font-weight="normal" fill="#111" >LEDs</text>
<line x1="938.00" y1="291.80" x2="987.00" y2="291.80" stroke-width="1.5" />
<line x1="937.40" y1="476.60" x2="986.40" y2="476.60" stroke-width="1.5" />
<line x1="976.20" y1="291.80" x2="976.20" y2="476.60" stroke-width="1.5" />
<polygon points="976.20,292.00 979.80,308.00 972.60,308.00" fill="#0c0c0c" stroke="none"/>
<polygon points="976.20,476.40 972.60,460.40 979.80,460.40" fill="#0c0c0c" stroke="none"/>
<text transform="translate(967.40 383.60) rotate(-90.00) scale(1.1 1)" font-size="20" text-anchor="middle" font-weight="normal" fill="#111" >71</text>
<line x1="566.40" y1="460.80" x2="566.40" y2="490.40" stroke-width="1.5" />
<line x1="639.20" y1="460.80" x2="639.20" y2="470.00" stroke-width="1.5" />
<line x1="566.40" y1="470.80" x2="639.20" y2="470.80" stroke-width="1.5" />
<polygon points="566.60,470.80 582.60,467.20 582.60,474.40" fill="#0c0c0c" stroke="none"/>
<polygon points="639.00,470.80 623.00,474.40 623.00,467.20" fill="#0c0c0c" stroke="none"/>
<text transform="translate(601.80 463.40) scale(1.1 1)" font-size="20" text-anchor="middle" font-weight="normal" fill="#111" >27.8</text>
<line x1="526.40" y1="487.00" x2="571.00" y2="487.00" stroke-width="1.5" />
<line x1="526.40" y1="564.60" x2="545.00" y2="564.60" stroke-width="1.5" />
<line x1="536.30" y1="487.00" x2="536.30" y2="564.60" stroke-width="1.5" />
<polygon points="536.30,487.20 539.90,503.20 532.70,503.20" fill="#0c0c0c" stroke="none"/>
<polygon points="536.30,564.40 532.70,548.40 539.90,548.40" fill="#0c0c0c" stroke="none"/>
<text transform="translate(526.40 525.40) rotate(-90.00) scale(1.1 1)" font-size="20" text-anchor="middle" font-weight="normal" fill="#111" >29.9</text>
<line x1="738.20" y1="498.20" x2="606.60" y2="501.90" stroke-width="1.5" />
<polygon points="606.60,501.90 622.49,497.85 622.69,505.05" fill="#0c0c0c" stroke="none"/>
<text transform="translate(672.80 491.40) scale(1.1 1)" font-size="20" text-anchor="start" font-weight="normal" fill="#111" >R1.75</text>
<text transform="translate(698.40 521.40) scale(1.1 1)" font-size="20" text-anchor="start" font-weight="normal" fill="#111" >Slit for</text>
<text transform="translate(698.40 547.40) scale(1.1 1)" font-size="20" text-anchor="start" font-weight="normal" fill="#111" >attachment</text>
<line x1="154.20" y1="540.20" x2="540.00" y2="384.30" stroke-width="1.5" />
<polygon points="280.20,488.80 266.71,498.13 264.02,491.46" fill="#0c0c0c" stroke="none"/>
<text transform="translate(156.60 531.40) rotate(-22.00) scale(1.1 1)" font-size="20" text-anchor="start" font-weight="normal" fill="#111" >R107.5</text>
<line x1="224.60" y1="651.40" x2="357.30" y2="533.90" stroke-width="1.5" />
<polygon points="324.80,562.80 315.20,576.10 310.43,570.71" fill="#0c0c0c" stroke="none"/>
<text transform="translate(223.60 639.00) rotate(-41.50) scale(1.1 1)" font-size="20" text-anchor="start" font-weight="normal" fill="#111" >R16.74</text>
<line x1="663.50" y1="384.60" x2="1013.10" y2="566.70" stroke-width="1.5" />
<polygon points="911.00,513.70 926.85,517.89 923.53,524.28" fill="#0c0c0c" stroke="none"/>
<text transform="translate(945.00 523.40) rotate(27.50) scale(1.1 1)" font-size="20" text-anchor="start" font-weight="normal" fill="#111" >R107.5</text>
<line x1="846.20" y1="533.70" x2="951.70" y2="651.20" stroke-width="1.5" />
<polygon points="875.40,566.20 888.76,575.70 883.41,580.51" fill="#0c0c0c" stroke="none"/>
<text transform="translate(904.00 589.60) rotate(48.10) scale(1.1 1)" font-size="20" text-anchor="start" font-weight="normal" fill="#111" >R16.74</text>
</g>
<g stroke="#161616" fill="none" stroke-linecap="butt" stroke-linejoin="round">
<path d="M258.8 1031.3 A253.1 253.1 0 0 1 456.6 926.6 L523.4 836.6 Q534 822.9 549.5 822.7 L752.6 822.7 Q771.6 822.9 779.6 838.4 L824.4 926.9 A104.4 104.4 0 0 1 928.8 1031.3 Z" stroke-width="2.0" fill="none" />
<line x1="366.20" y1="822.70" x2="549.00" y2="822.70" stroke-width="1.5" />
<line x1="366.20" y1="835.90" x2="524.00" y2="835.90" stroke-width="1.5" />
<path d="M541.0 839.4 Q544.6 835.9 552 835.9 L618 835.9" stroke-width="1.9" fill="none" />
<line x1="622.00" y1="835.90" x2="638.00" y2="835.90" stroke-width="1.9" stroke-dasharray="11 4.5"/>
<line x1="638.10" y1="835.90" x2="651.20" y2="835.90" stroke-width="1.9" />
<line x1="651.20" y1="835.90" x2="748.00" y2="835.90" stroke-width="1.9" stroke-dasharray="12 4.5"/>
<path d="M748 835.9 Q757.4 836.2 761.8 843.6" stroke-width="1.9" fill="none" />
<line x1="462.80" y1="939.60" x2="541.00" y2="839.40" stroke-width="1.9" stroke-dasharray="13 4.5"/>
<path d="M275.2 1031.3 A240.1 240.1 0 0 1 341.4 972.9" stroke-width="1.9" fill="none" />
<path d="M344.4 971.2 A240.1 240.1 0 0 1 462.9 939.5" stroke-width="1.9" fill="none" />
<line x1="761.80" y1="843.60" x2="816.60" y2="939.30" stroke-width="1.9" stroke-dasharray="12 4.5"/>
<path d="M816.6 939.6 L824.4 939.9 A91.4 91.4 0 0 1 909.6 998.2" stroke-width="1.9" fill="none" />
<path d="M910.8 1001.6 A91.4 91.4 0 0 1 914.6 1014.8" stroke-width="1.9" fill="none" />
<path d="M915.4 1019.0 L915.8 1031.3" stroke-width="2.1" fill="none" />
<line x1="824.20" y1="926.90" x2="1034.60" y2="926.90" stroke-width="1.8" />
<line x1="626.40" y1="822.70" x2="626.40" y2="836.90" stroke-width="2.0" />
<line x1="638.10" y1="822.70" x2="638.10" y2="836.90" stroke-width="2.4" />
<line x1="676.50" y1="822.70" x2="676.50" y2="836.90" stroke-width="2.0" />
<path d="M651.0 822.7 L651.0 908.2 L637.4 908.2 L637.4 932.6 L651.0 932.6 L651.0 1031.3" stroke-width="2.7" fill="none" stroke-linejoin="miter"/>
<path d="M650.8 910 L642.6 910 Q639.2 910 639.2 913.4 L639.2 927.4 Q639.2 930.8 642.6 930.8 L650.8 930.8" stroke-width="1.0" fill="none" />
<ellipse cx="305.4" cy="1009.2" rx="4.4" ry="8.2" stroke-width="2.7"/>
<ellipse cx="316.0" cy="1009.2" rx="4.4" ry="8.2" stroke-width="2.7"/>
<line x1="305.40" y1="1001.00" x2="316.00" y2="1001.00" stroke-width="2.7" />
<line x1="305.40" y1="1017.40" x2="316.00" y2="1017.40" stroke-width="2.7" />
<ellipse cx="891.5" cy="1001.9" rx="4.4" ry="8.2" stroke-width="2.7"/>
<ellipse cx="903.0" cy="1001.9" rx="4.4" ry="8.2" stroke-width="2.7"/>
<line x1="891.50" y1="993.70" x2="903.00" y2="993.70" stroke-width="2.7" />
<line x1="891.50" y1="1010.10" x2="903.00" y2="1010.10" stroke-width="2.7" />
<line x1="900.10" y1="979.00" x2="914.80" y2="979.00" stroke-width="2.2" />
<line x1="566.20" y1="1018.00" x2="566.20" y2="1031.30" stroke-width="1.9" />
<line x1="638.40" y1="1018.00" x2="638.40" y2="1031.30" stroke-width="1.9" />
<line x1="566.20" y1="1018.00" x2="638.40" y2="1018.00" stroke-width="1.8" stroke-dasharray="11 5"/>
<line x1="552.40" y1="1005.20" x2="566.20" y2="1018.00" stroke-width="1.9" stroke-dasharray="8 4"/>
<line x1="638.40" y1="1018.00" x2="651.00" y2="1006.00" stroke-width="1.9" stroke-dasharray="8 4"/>
<path d="M597.8 1031.3 L597.8 1014 Q599.4 1008 602.4 1004.6 Q605.6 1008 607.2 1014 L607.2 1031.3" stroke-width="2.4" fill="none" />
<line x1="375.90" y1="767.40" x2="375.90" y2="822.70" stroke-width="1.5" />
<line x1="375.90" y1="835.90" x2="375.90" y2="867.40" stroke-width="1.5" />
<polygon points="375.90,822.70 372.30,806.70 379.50,806.70" fill="#0c0c0c" stroke="none"/>
<polygon points="375.90,835.90 379.50,851.90 372.30,851.90" fill="#0c0c0c" stroke="none"/>
<text transform="translate(366.80 778.00) rotate(-90.00) scale(1.1 1)" font-size="20" text-anchor="middle" font-weight="normal" fill="#111" >5</text>
<text transform="translate(386.80 785.20) scale(1.1 1)" font-size="20" text-anchor="start" font-weight="normal" fill="#111" >Shelled to 5 mm</text>
<line x1="749.00" y1="822.70" x2="1025.00" y2="822.70" stroke-width="1.5" />
<line x1="1014.60" y1="822.70" x2="1014.60" y2="926.90" stroke-width="1.5" />
<polygon points="1014.60,822.90 1018.20,838.90 1011.00,838.90" fill="#0c0c0c" stroke="none"/>
<polygon points="1014.60,926.70 1011.00,910.70 1018.20,910.70" fill="#0c0c0c" stroke="none"/>
<text transform="translate(1007.40 873.80) rotate(-90.00) scale(1.1 1)" font-size="20" text-anchor="middle" font-weight="normal" fill="#111" >40</text>
<line x1="937.40" y1="1031.30" x2="1034.60" y2="1031.30" stroke-width="1.5" />
<line x1="1024.00" y1="926.90" x2="1024.00" y2="1031.30" stroke-width="1.5" />
<polygon points="1024.00,927.10 1027.60,943.10 1020.40,943.10" fill="#0c0c0c" stroke="none"/>
<polygon points="1024.00,1031.10 1020.40,1015.10 1027.60,1015.10" fill="#0c0c0c" stroke="none"/>
<text transform="translate(1015.00 977.80) rotate(-90.00) scale(1.1 1)" font-size="20" text-anchor="middle" font-weight="normal" fill="#111" >40</text>
<line x1="259.80" y1="1040.20" x2="259.80" y2="1088.60" stroke-width="1.5" />
<line x1="928.80" y1="1040.20" x2="928.80" y2="1088.60" stroke-width="1.5" />
<line x1="259.80" y1="1078.20" x2="928.80" y2="1078.20" stroke-width="1.5" />
<polygon points="260.00,1078.20 276.00,1074.60 276.00,1081.80" fill="#0c0c0c" stroke="none"/>
<polygon points="928.60,1078.20 912.60,1081.80 912.60,1074.60" fill="#0c0c0c" stroke="none"/>
<text transform="translate(593.00 1068.80) scale(1.1 1)" font-size="20" text-anchor="middle" font-weight="normal" fill="#111" >257.34</text>
</g>
<g stroke="#161616" fill="none" stroke-linecap="butt" stroke-linejoin="round">
<rect x="1296.6" y="822.9" width="385.4000000000001" height="207.89999999999998" stroke-width="1.6"/>
<line x1="1296.60" y1="1030.80" x2="1682.00" y2="1030.80" stroke-width="2.0" />
<line x1="1296.60" y1="927.20" x2="1682.00" y2="927.20" stroke-width="1.5" />
<line x1="1489.00" y1="822.90" x2="1489.00" y2="1030.80" stroke-width="1.5" />
<line x1="1309.60" y1="836.00" x2="1668.60" y2="836.00" stroke-width="1.4" stroke-dasharray="11.6 4.4"/>
<line x1="1309.60" y1="836.00" x2="1309.60" y2="1030.80" stroke-width="1.4" stroke-dasharray="11.6 4.4"/>
<line x1="1668.60" y1="836.00" x2="1668.60" y2="1030.80" stroke-width="1.4" stroke-dasharray="11.6 4.4"/>
<line x1="1309.60" y1="940.00" x2="1668.60" y2="940.00" stroke-width="2.3" stroke-dasharray="12 4.6"/>
<line x1="1380.60" y1="822.90" x2="1380.60" y2="836.00" stroke-width="2.4" />
<line x1="1405.10" y1="822.90" x2="1405.10" y2="836.00" stroke-width="2.2" />
<line x1="1476.70" y1="822.90" x2="1476.70" y2="836.00" stroke-width="2.2" />
<line x1="1560.80" y1="822.90" x2="1560.80" y2="836.00" stroke-width="2.2" />
<line x1="1585.40" y1="822.90" x2="1585.40" y2="836.00" stroke-width="2.2" />
<line x1="1296.60" y1="907.60" x2="1309.60" y2="907.60" stroke-width="2.0" />
<line x1="1296.60" y1="932.00" x2="1309.60" y2="932.00" stroke-width="1.8" />
<line x1="1668.60" y1="907.60" x2="1682.00" y2="907.60" stroke-width="2.0" />
<line x1="1668.60" y1="932.00" x2="1682.00" y2="932.00" stroke-width="1.8" />
<path d="M1296.6 927.2 L1296.6 950.6 C1297.2 962 1304.0 965.4 1316.0 970.6 C1350.0 988 1390.0 1008 1422.0 1020 C1445.0 1027 1468.0 1030.4 1489.0 1030.8" stroke-width="1.5" fill="none" />
<path d="M1681.4 927.2 L1681.4 950.6 C1680.8 962 1674.0 965.4 1662.0 970.6 C1628.0 988 1588.0 1008 1556.0 1020 C1533.0 1027 1510.0 1030.4 1489.0 1030.8" stroke-width="1.5" fill="none" />
<path d="M1309.6 968.0 C1346.0 990 1388.0 1010 1422.0 1022.6 C1442.0 1028 1466.0 1030.4 1489.0 1030.8" stroke-width="1.3" fill="none" stroke-dasharray="12 4"/>
<path d="M1668.4 968.0 C1632.0 990 1590.0 1010 1556.0 1022.6 C1536.0 1028 1512.0 1030.4 1489.0 1030.8" stroke-width="1.3" fill="none" stroke-dasharray="12 4"/>
<path d="M1304.2 937.8 C1330.0 951 1356.0 968 1379.6 992 C1390.0 1004 1397.0 1016 1397.8 1030.8" stroke-width="1.3" fill="none" />
<path d="M1673.8 937.8 C1648.0 951 1622.0 968 1598.4 992 C1588.0 1004 1581.0 1016 1580.2 1030.8" stroke-width="1.3" fill="none" />
<path d="M1306.0 941 C1331.0 954 1355.0 971 1377.0 995" stroke-width="1.3" fill="none" stroke-dasharray="9 4"/>
<path d="M1672.0 941 C1647.0 954 1623.0 971 1601.0 995" stroke-width="1.3" fill="none" stroke-dasharray="9 4"/>
<path d="M1309.6 1004 Q1309.6 1017.8 1322 1017.8 L1376 1017.8" stroke-width="1.3" fill="none" stroke-dasharray="10 4"/>
<path d="M1668.6 1004 Q1668.6 1017.8 1656 1017.8 L1602 1017.8" stroke-width="1.3" fill="none" stroke-dasharray="10 4"/>
<path d="M1376.0 1030.8 L1376.0 1017.8 L1387.4 1017.8 L1387.4 1030.8" stroke-width="1.5" fill="none" />
<path d="M1590.6 1030.8 L1590.6 1017.8 L1602.0 1017.8 L1602.0 1030.8" stroke-width="1.5" fill="none" />
<path d="M1489.0 978.8 L1502.6 978.8 L1502.6 1030.8" stroke-width="1.4" fill="none" />
<path d="M1489.0 980.6 L1496 980.6 Q1500.8 980.6 1500.8 986 L1500.8 1030.8" stroke-width="1.2" fill="none" stroke-dasharray="5 2"/>
<ellipse cx="1336.6" cy="1009.2" rx="5.4" ry="7.6" stroke-width="2.3"/>
<ellipse cx="1342.6" cy="1008.2" rx="4.2" ry="6.6" stroke-width="2.2"/>
<ellipse cx="1344.6" cy="1004.2" rx="8" ry="7" stroke-width="1.6" stroke-dasharray="14 5"/>
<line x1="1337.60" y1="1016.80" x2="1344.60" y2="1016.80" stroke-width="2.2" />
<ellipse cx="1641.4" cy="1008.2" rx="5.4" ry="7.6" stroke-width="2.3"/>
<ellipse cx="1635.4" cy="1007.2" rx="4.2" ry="6.6" stroke-width="2.2"/>
<ellipse cx="1633.4" cy="1003.2" rx="8" ry="7" stroke-width="1.6" stroke-dasharray="14 5"/>
<line x1="1640.40" y1="1015.80" x2="1633.40" y2="1015.80" stroke-width="2.2" />
<line x1="1296.60" y1="764.80" x2="1296.60" y2="814.20" stroke-width="1.5" />
<line x1="1682.00" y1="764.80" x2="1682.00" y2="814.20" stroke-width="1.5" />
<line x1="1296.60" y1="775.00" x2="1682.00" y2="775.00" stroke-width="1.5" />
<polygon points="1296.80,775.00 1312.80,771.40 1312.80,778.60" fill="#0c0c0c" stroke="none"/>
<polygon points="1681.80,775.00 1665.80,778.60 1665.80,771.40" fill="#0c0c0c" stroke="none"/>
<text transform="translate(1488.20 767.20) scale(1.1 1)" font-size="20" text-anchor="middle" font-weight="normal" fill="#111" >148.5</text>
<line x1="1252.80" y1="822.90" x2="1287.00" y2="822.90" stroke-width="1.5" />
<line x1="1252.80" y1="836.00" x2="1296.60" y2="836.00" stroke-width="1.5" />
<line x1="1263.70" y1="767.20" x2="1263.70" y2="822.90" stroke-width="1.5" />
<line x1="1263.70" y1="836.00" x2="1263.70" y2="867.20" stroke-width="1.5" />
<polygon points="1263.70,822.90 1260.10,806.90 1267.30,806.90" fill="#0c0c0c" stroke="none"/>
<polygon points="1263.70,836.00 1267.30,852.00 1260.10,852.00" fill="#0c0c0c" stroke="none"/>
<text transform="translate(1254.40 777.00) rotate(-90.00) scale(1.1 1)" font-size="20" text-anchor="middle" font-weight="normal" fill="#111" >5</text>
<line x1="1190.40" y1="822.90" x2="1252.80" y2="822.90" stroke-width="1.5" />
<line x1="1190.40" y1="1030.80" x2="1287.00" y2="1030.80" stroke-width="1.5" />
<line x1="1200.70" y1="822.90" x2="1200.70" y2="1030.80" stroke-width="1.5" />
<polygon points="1200.70,823.10 1204.30,839.10 1197.10,839.10" fill="#0c0c0c" stroke="none"/>
<polygon points="1200.70,1030.60 1197.10,1014.60 1204.30,1014.60" fill="#0c0c0c" stroke="none"/>
<text transform="translate(1191.00 925.20) rotate(-90.00) scale(1.1 1)" font-size="20" text-anchor="middle" font-weight="normal" fill="#111" >80</text>
</g>
</svg>
</body></html>
